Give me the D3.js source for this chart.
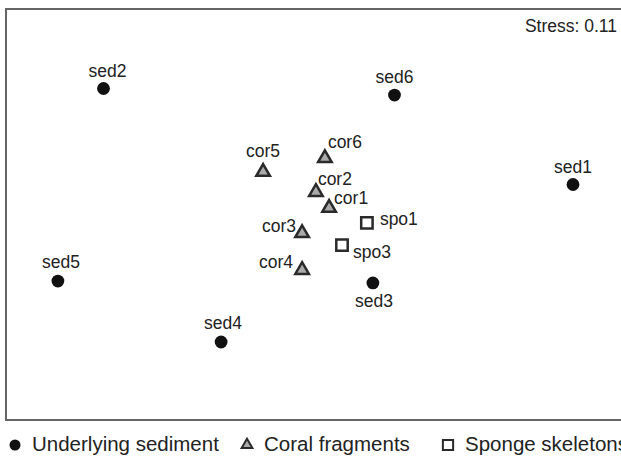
<!DOCTYPE html>
<html>
<head>
<meta charset="utf-8">
<script src="https://cdn.jsdelivr.net/npm/d3@7"></script>
<style>
  body { margin: 0; background: #fff; }
  svg text { font-family: "Liberation Sans", Arial, sans-serif; fill: #222; }
</style>
</head>
<body>
<svg id="nmds"></svg>
<script>
// NMDS ordination, points (arbitrary units)
const names  = ["sed1", "sed2", "sed3", "sed4", "sed5", "sed6",
                "cor1", "cor2", "cor3", "cor4", "cor5", "cor6",
                "spo1", "spo3"];
const groups = ["sed", "sed", "sed", "sed", "sed", "sed",
                "cor", "cor", "cor", "cor", "cor", "cor",
                "spo", "spo"];
const mds1 = [0.840, -0.725, 0.173, -0.333, -0.877, 0.245,
              0.027, -0.017, -0.063, -0.063, -0.193, 0.013,
              0.153, 0.070];
const mds2 = [0.100, 0.420, -0.228, -0.425, -0.222, 0.398,
              0.022, 0.075, -0.062, -0.185, 0.142, 0.188,
              -0.028, -0.102];
const groupNames = ["sed", "cor", "spo"];
const groupLabels = ["Underlying sediment", "Coral fragments", "Sponge skeletons"];
const stress = 0.11;

const data = names.map((n, i) => ({name: n, group: groups[i], x: mds1[i], y: mds2[i]}));

const W = 621, H = 456;
const svg = d3.select("#nmds").attr("width", W).attr("height", H);

// plot frame (right side runs off the picture)
const frame = {left: 6, top: 9, right: 636, bottom: 420};

const x = d3.scaleLinear().domain([-1.05, 1.05]).range([frame.left, frame.right]);
const y = d3.scaleLinear().domain([-0.685, 0.685]).range([frame.bottom, frame.top]);

svg.append("rect")
    .attr("x", frame.left)
    .attr("y", frame.top)
    .attr("width", frame.right - frame.left)
    .attr("height", frame.bottom - frame.top)
    .attr("fill", "none")
    .attr("stroke", "#666")
    .attr("stroke-width", 2);

svg.append("text")
    .attr("x", 617)
    .attr("y", 32)
    .attr("text-anchor", "end")
    .style("font-size", "17.5px")
    .text("Stress: " + stress.toFixed(2));

const shape = {
    sed: d3.symbol(d3.symbolCircle, 128),
    cor: d3.symbol(d3.symbolTriangle, 80),
    spo: d3.symbol(d3.symbolSquare, 130)
};
const fill = {sed: "#111", cor: "#aaa", spo: "#fff"};
const stroke = {sed: "none", cor: "#2a2a2a", spo: "#2a2a2a"};

svg.selectAll("path.pt")
    .data(data)
    .enter()
    .append("path")
    .attr("class", "pt")
    .attr("transform", d => `translate(${x(d.x)},${y(d.y)})`)
    .attr("d", d => shape[d.group]())
    .attr("fill", d => fill[d.group])
    .attr("stroke", d => stroke[d.group])
    .attr("stroke-width", 2.5)
    .attr("stroke-linejoin", "miter");

// label placement next to each marker: [dx, dy, anchor]
const labelOffset = {
    sed1: [0, -12, "middle"], sed2: [4, -12, "middle"], sed3: [1, 24, "middle"],
    sed4: [2, -13, "middle"], sed5: [3, -13, "middle"], sed6: [0, -12, "middle"],
    cor1: [5, -4, "start"],   cor2: [2, -7, "start"],   cor3: [-6, -1, "end"],
    cor4: [-9, -2, "end"],    cor5: [0, -15, "middle"], cor6: [3, -10, "start"],
    spo1: [13, 2, "start"],   spo3: [11, 13, "start"]
};

svg.selectAll("text.lab")
    .data(data)
    .enter()
    .append("text")
    .attr("class", "lab")
    .attr("x", d => x(d.x) + labelOffset[d.name][0])
    .attr("y", d => y(d.y) + labelOffset[d.name][1])
    .attr("text-anchor", d => labelOffset[d.name][2])
    .style("font-size", "17.5px")
    .text(d => d.name);

// legend under the frame
const legendX = [15, 247, 448];
const legendShape = {
    sed: d3.symbol(d3.symbolCircle, 95),
    cor: d3.symbol(d3.symbolTriangle, 50),
    spo: d3.symbol(d3.symbolSquare, 105)
};
const legend = svg.append("g");
groupNames.forEach((g, i) => {
    legend.append("path")
        .attr("transform", `translate(${legendX[i]},445)`)
        .attr("d", legendShape[g]())
        .attr("fill", fill[g])
        .attr("stroke", stroke[g])
        .attr("stroke-width", 2);
    legend.append("text")
        .attr("x", legendX[i] + 17)
        .attr("y", 451)
        .style("font-size", "20.5px")
        .text(groupLabels[i]);
});
</script>
</body>
</html>
